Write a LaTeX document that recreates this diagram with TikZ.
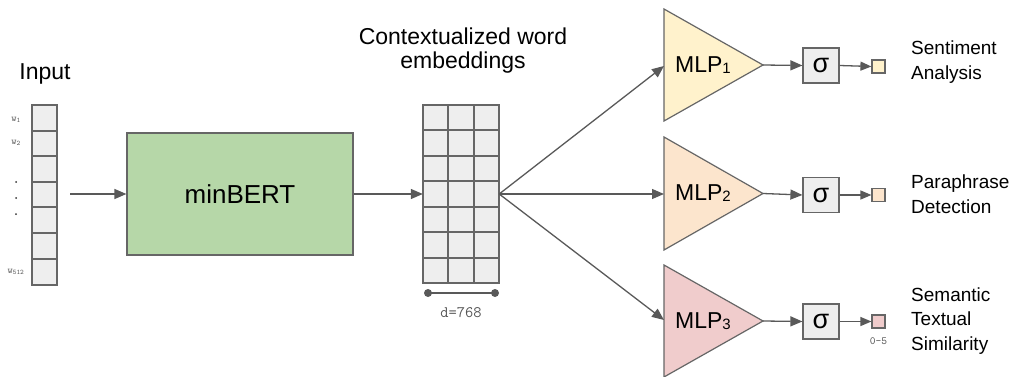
\documentclass[tikz,border=0pt]{standalone}
\usepackage{fontspec}
\setmainfont{Liberation Sans}
\newfontfamily\monofont{Latin Modern Mono}
\usetikzlibrary{arrows.meta}

\definecolor{edgegray}{HTML}{666666}
\definecolor{arrowgray}{HTML}{595959}
\definecolor{cellfill}{HTML}{EEEEEE}
\definecolor{bertgreen}{HTML}{B6D7A8}
\definecolor{mlpyellow}{HTML}{FFF2CC}
\definecolor{mlporange}{HTML}{FCE5CD}
\definecolor{mlpred}{HTML}{F0CCCC}
\definecolor{labelgray}{HTML}{555555}

\newcommand{\fs}[2]{\fontsize{#1}{#2}\selectfont}
\newcommand{\mlpname}[1]{MLP\raisebox{-1pt}{\fs{15}{15}#1}}

\tikzset{
  gridline/.style={draw=edgegray, line width=1.4pt},
  cellbg/.style={fill=cellfill},
  arr/.style={draw=arrowgray, line width=1.3pt, -{Triangle[length=12pt,width=10pt]}},
  smallarr/.style={draw=arrowgray, line width=1.3pt, -{Triangle[length=11pt,width=9pt]}},
  tri/.style={draw=edgegray, line width=1.2pt, line join=miter},
  sigbox/.style={draw=edgegray, fill=cellfill, line width=1.2pt, minimum width=36pt, minimum height=35pt, inner sep=0pt, font=\fs{27}{27}},
  outsq/.style={draw=edgegray, line width=1.2pt, minimum size=13pt, inner sep=0pt},
  tasklabel/.style={anchor=west, align=left, font=\fs{19}{24.5}, inner sep=0pt},
  wlabel/.style={font=\monofont\fs{10}{10}, text=labelgray, inner sep=0pt},
}

\begin{document}
\begin{tikzpicture}[x=1pt, y=-1pt]
\useasboundingbox (0,0) rectangle (1015,377);

% ---- input tokens ----
\node[font=\fs{23}{24}, inner sep=0pt] (inputlbl) at (45,74) {Input};
\fill[cellbg] (32,105) rectangle (57,285);
\foreach \y in {131,156,182,207,233,259}
  \draw[gridline] (32,\y) -- (57,\y);
\draw[gridline] (32,105) rectangle (57,285);
\node[wlabel] (w1) at (16,120) {w\textsubscript{1}};
\node[wlabel] (w2) at (16,143) {w\textsubscript{2}};
\foreach \y in {182,198,214}
  \fill[black!80] (16,\y) circle (1pt);
\node[wlabel] (w512) at (16,272) {w\textsubscript{512}};
\coordinate (instart) at (70,194);

% ---- encoder ----
\node[draw=edgegray, fill=bertgreen, line width=1.2pt, minimum width=226pt, minimum height=122pt,
      inner sep=0pt, font=\fs{26}{26}] (bert) at (240,194) {minBERT};
\draw[arr] (instart) -- (bert.west);

% ---- contextual embeddings ----
\node[font=\fs{23}{24}, align=center, inner sep=0pt] (embtitle) at (463,51)
  {Contextualized word\\embeddings};
\node[minimum width=76pt, minimum height=178pt, inner sep=0pt] (emb) at (461,194) {};
\fill[cellbg] (423,105) rectangle (499,283);
\foreach \y in {130,156,181,207,232,258}
  \draw[gridline] (423,\y) -- (499,\y);
\foreach \x in {448,474}
  \draw[gridline] (\x,105) -- (\x,283);
\draw[gridline] (423,105) rectangle (499,283);
\draw[arr] (bert.east) -- (emb.west);

\coordinate (dl) at (428,293);
\coordinate (dr) at (495,293);
\draw[draw=arrowgray, line width=1.3pt] (dl) -- (dr);
\fill[arrowgray] (dl) circle (4pt) (dr) circle (4pt);
\node[font=\monofont\fs{16}{16}, text=labelgray, inner sep=0pt] (dim) at (461,313) {d=768};

% ---- task heads ----
% MLP 1
\draw[tri, fill=mlpyellow] (664,9) -- (763,65) -- (664,121) -- cycle;
\coordinate (m1in) at (664,66);
\coordinate (m1out) at (763,65);
\node[font=\fs{23}{23}, inner sep=0pt] (mlp1) at (703,65) {\mlpname{1}};
\node[sigbox] (s1) at (821,65.5) {σ};
\node[outsq, fill=mlpyellow] (o1) at (878.5,66.5) {};
\node[tasklabel] (t1) at (911,62) {Sentiment\\Analysis};

% MLP 2
\draw[tri, fill=mlporange] (664,137) -- (763,193.5) -- (664,250) -- cycle;
\coordinate (m2in) at (664,194);
\coordinate (m2out) at (763,193.5);
\node[font=\fs{23}{23}, inner sep=0pt] (mlp2) at (703,193.5) {\mlpname{2}};
\node[sigbox] (s2) at (821,195) {σ};
\node[outsq, fill=mlporange] (o2) at (878.5,195) {};
\node[tasklabel] (t2) at (911,194) {Paraphrase\\Detection};

% MLP 3
\draw[tri, fill=mlpred] (664,265) -- (763,321) -- (664,377) -- cycle;
\coordinate (m3in) at (664,320);
\coordinate (m3out) at (763,321);
\node[font=\fs{23}{23}, inner sep=0pt] (mlp3) at (703,321) {\mlpname{3}};
\node[sigbox] (s3) at (821,321.5) {σ};
\node[outsq, fill=mlpred] (o3) at (878.5,321.5) {};
\node[font=\monofont\fs{11}{11}, text=labelgray, inner sep=0pt] (range) at (878.5,341) {0-5};
\node[tasklabel] (t3) at (911,321) {Semantic\\Textual\\Similarity};

% ---- connectors ----
\draw[arr] (emb.east) -- (m1in);
\draw[arr] (emb.east) -- (m2in);
\draw[arr] (emb.east) -- (m3in);
\foreach \k in {1,2,3} {
  \draw[arr] (m\k out) -- (s\k.west);
  \draw[smallarr] (s\k.east) -- (o\k.west);
}
\end{tikzpicture}
\end{document}
